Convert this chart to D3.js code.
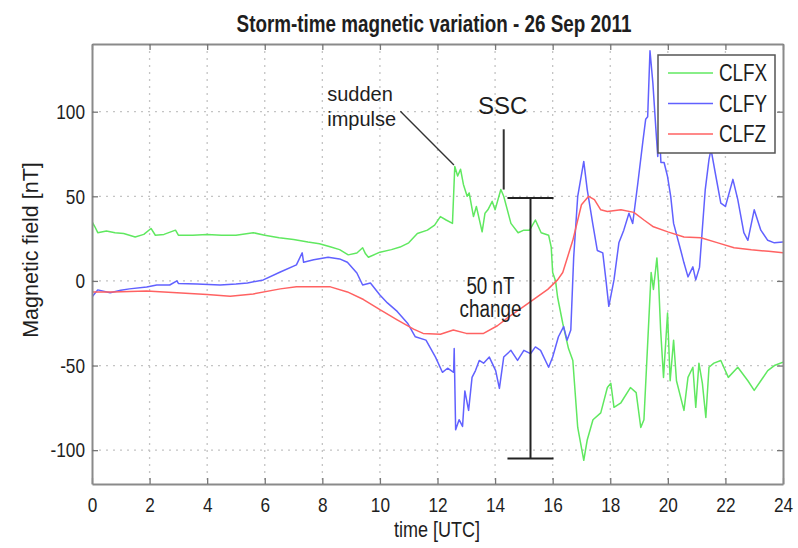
<!DOCTYPE html>
<html>
<head>
<meta charset="utf-8">
<script src="https://cdn.jsdelivr.net/npm/d3@7"></script>
<style>
  html, body { margin: 0; padding: 0; background: #fff; }
  svg { display: block; }
</style>
</head>
<body>
<svg id="chart" width="798" height="548"></svg>
<script>
// ---- data ----
const xTicks = [0, 2, 4, 6, 8, 10, 12, 14, 16, 18, 20, 22, 24];
const yTicks = [-100, -50, 0, 50, 100];
const seriesNames = ["CLFX", "CLFY", "CLFZ"];
const seriesColors = ["#60e860", "#6161ff", "#ff6262"];

const clfxTime = [0.0,0.1,0.2,0.5,0.8,1.1,1.5,1.8,2.05,2.2,2.5,2.9,3.0,3.5,4.0,4.5,5.0,5.6,6.0,6.5,7.0,7.5,7.9,8.3,8.6,8.9,9.2,9.4,9.5,9.6,10.0,10.4,10.7,11.0,11.3,11.65,11.9,12.1,12.3,12.52,12.6,12.7,12.8,12.9,13.03,13.1,13.25,13.35,13.55,13.65,13.75,13.9,14.0,14.2,14.3,14.55,14.8,15.0,15.2,15.4,15.6,15.86,15.95,16.0,16.1,16.17,16.35,16.55,16.7,16.87,17.08,17.2,17.4,17.67,17.9,18.02,18.13,18.37,18.7,18.9,19.06,19.17,19.34,19.42,19.5,19.62,19.68,19.75,19.85,19.99,20.08,20.2,20.3,20.56,20.7,20.87,20.97,21.08,21.2,21.32,21.43,21.6,21.84,22.1,22.43,22.78,23.0,23.23,23.47,23.7,24.0];
const clfxValue = [35,32,28.5,29.5,28.5,28,26,27.5,31,27,27.5,30,27,27,27.5,27,27,28.5,27,25.5,24.5,23,22,20,18.5,15.4,16.5,19.6,16,14,17,18.5,20,22.5,28,30,33,38,36,34,67.6,62,66,57,50,52,38,44,29,40,42,47,42,54,50,34,28.5,30,30,36,28.5,27,20,5,0,-9.5,-25,-40,-47,-86.6,-106,-94,-82,-78,-63,-60.5,-74.7,-72,-63,-66,-86.6,-82,-23,5,-5,13.6,-1,-29,-57,-19,-59,-35,-59,-76.5,-57,-51,-74.7,-48.6,-60.5,-80.7,-51,-48.6,-47,-57,-51,-59,-64.7,-59,-53,-50,-48];

const clfyTime = [0.0,0.2,0.63,1.0,1.3,1.9,2.25,2.7,2.95,3.0,3.65,4.45,5.0,5.4,5.95,6.54,7.1,7.3,7.35,7.7,8.2,8.6,8.87,9.2,9.4,9.67,10.0,10.26,10.6,10.96,11.23,11.6,11.93,12.17,12.35,12.56,12.58,12.63,12.75,12.87,12.95,13.08,13.2,13.32,13.45,13.6,13.8,14.02,14.15,14.3,14.55,14.78,15.0,15.23,15.4,15.58,15.86,16.0,16.2,16.38,16.5,16.63,16.73,16.87,17.08,17.2,17.39,17.55,17.74,17.85,17.95,18.13,18.3,18.47,18.65,18.78,18.96,19.13,19.23,19.3,19.38,19.48,19.58,19.65,19.7,19.76,19.87,19.99,20.1,20.2,20.45,20.56,20.7,20.87,20.97,21.1,21.3,21.43,21.5,21.67,21.84,22.0,22.26,22.43,22.64,22.78,23.0,23.23,23.47,23.7,24.0];
const clfyValue = [-9.5,-5.3,-7,-5.5,-4.7,-3.6,-2.4,-2.4,0,-1.5,-1.8,-2.4,-1.8,-1.2,0.6,5.3,9.5,16.6,11,12.5,14,13,11,4.7,-2.4,-1.2,-8.3,-13,-18,-25,-33,-35,-45,-54,-51.6,-54,-40,-88,-82,-86,-65,-76.5,-57,-53,-47,-48.6,-45,-53,-63.5,-45,-41,-47,-41,-43,-39,-41,-51,-45,-33,-27,-35,-29,14,50,70.6,54,34,18,16.6,0.6,-15,0.6,22.5,30,40,34,58,82,95.5,97,136,117,91,73.5,91,70,70,61.7,50,34,18,10.7,2.4,8.3,0.6,8,54,71.8,77.7,61.7,46,44,60,48,28.5,24,42,30,24,22.5,23];

const clfzTime = [0.0,0.73,1.9,2.95,4.0,4.8,5.6,6.54,7.1,8.28,8.87,9.43,10.0,10.6,11.17,11.5,12.1,12.55,13.0,13.6,14.08,14.5,15.0,15.5,15.83,16.17,16.35,16.7,17.0,17.25,17.45,17.67,17.9,18.37,18.82,19.17,19.5,20.0,20.56,21.15,21.74,22.3,22.9,23.5,24.0];
const clfzValue = [-6.5,-6.5,-6,-7,-8,-9,-7.7,-4.7,-3.5,-3.5,-6.5,-11,-17,-23,-28.5,-31,-31.5,-29,-31,-31,-26.5,-21,-15,-9,-5,0.6,5,24,45,50,48,42,41,42,40.5,36,32,29,26,25.5,22.5,19.6,18.4,17.5,16.6];

// annotations (data coordinates: hours, nT)
const impulsePointer = [[10.71, 100.2], [12.57, 68.5]];
const sscMarker = [[14.3, 89.6], [14.3, 54]];
const changeBar = { t: 15.23, from: -105, to: 49, capHalf: 0.8 };

// ---- drawing ----
const mLeft = 92, mRight = 783, mTop = 44, mBottom = 484;
const svg = d3.select("#chart");
const x = d3.scaleLinear().domain([0, 24]).range([mLeft, mRight]);
const y = d3.scaleLinear().domain([-120, 140]).range([mBottom, mTop]);

const REG = "'Liberation Sans', Arial, Helvetica, sans-serif";
const SQ = 0.82; // horizontal squeeze to mimic a narrow face
const txt = "#1e1e1e";

function narrowText(g, px, py, s, size, anchor, weight) {
  return g.append("text")
    .attr("transform", `translate(${px},${py}) scale(${SQ},1)`)
    .attr("text-anchor", anchor || "start")
    .style("font-family", REG).style("font-size", size + "px")
    .style("font-weight", weight || "normal")
    .attr("fill", txt).text(s);
}

// grid
const grid = svg.append("g").attr("stroke", "#c4c4c4").attr("stroke-width", 1.3).attr("stroke-dasharray", "2,5");
grid.selectAll("line.v").data(xTicks.filter(d => d > 0 && d < 24)).join("line").attr("class", "v")
  .attr("x1", d => x(d)).attr("x2", d => x(d)).attr("y1", mTop).attr("y2", mBottom);
grid.selectAll("line.h").data(yTicks).join("line").attr("class", "h")
  .attr("x1", mLeft).attr("x2", mRight).attr("y1", d => y(d)).attr("y2", d => y(d));

// clip
svg.append("clipPath").attr("id", "plotclip").append("rect")
  .attr("x", mLeft).attr("y", mTop).attr("width", mRight - mLeft).attr("height", mBottom - mTop);

const line = d3.line().x(d => x(d[0])).y(d => y(d[1]));
const series = [
  d3.zip(clfxTime, clfxValue),
  d3.zip(clfyTime, clfyValue),
  d3.zip(clfzTime, clfzValue)
];
const lines = svg.append("g").attr("clip-path", "url(#plotclip)");
[0, 1, 2].forEach(i => {
  lines.append("path").datum(series[i])
    .attr("fill", "none").attr("stroke", seriesColors[i])
    .attr("stroke-width", 1.5).attr("stroke-linejoin", "round")
    .attr("d", line);
});

// axes (MATLAB style: ticks inside, box)
const frameColor = "#8a8a8a";
const fmt = d => String(d);
const axB = d3.axisBottom(x).tickValues(xTicks).tickSizeInner(-6).tickSizeOuter(0).tickPadding(12).tickFormat(fmt);
const axT = d3.axisTop(x).tickValues(xTicks).tickSizeInner(-6).tickSizeOuter(0).tickFormat("");
const axL = d3.axisLeft(y).tickValues(yTicks).tickSizeInner(-6).tickSizeOuter(0).tickPadding(7).tickFormat(fmt);
const axR = d3.axisRight(y).tickValues(yTicks).tickSizeInner(-6).tickSizeOuter(0).tickFormat("");

function styleAxis(g) {
  g.select(".domain").attr("stroke", frameColor).attr("stroke-width", 2);
  g.selectAll(".tick line").attr("stroke", "#777").attr("stroke-width", 1.3);
  g.selectAll(".tick text").attr("fill", txt).style("font-family", REG).style("font-size", "21px");
}
const gB = svg.append("g").attr("transform", `translate(0,${mBottom})`).call(axB).call(styleAxis);
gB.selectAll(".tick text").attr("dy", "0.75em").attr("transform", `scale(${SQ},1)`);
svg.append("g").attr("transform", `translate(0,${mTop})`).call(axT).call(styleAxis);
const gL = svg.append("g").attr("transform", `translate(${mLeft},0)`).call(axL).call(styleAxis);
gL.selectAll(".tick text").attr("x", -7 / SQ).attr("transform", `scale(${SQ},1)`);
svg.append("g").attr("transform", `translate(${mRight},0)`).call(axR).call(styleAxis);

// titles
narrowText(svg, 434, 32, "Storm-time magnetic variation - 26 Sep 2011", 23, "middle", "bold");
narrowText(svg, 437, 537, "time [UTC]", 22, "middle");
svg.append("text").attr("transform", "translate(38,250) rotate(-90)").attr("text-anchor", "middle")
  .style("font-family", REG).style("font-size", "21.5px").attr("fill", txt)
  .text("Magnetic field [nT]");

// annotations
const ann = svg.append("g");
ann.append("path").datum(impulsePointer).attr("d", line).attr("stroke", "#333").attr("stroke-width", 1.4).attr("fill", "none");
ann.append("path").datum(sscMarker).attr("d", line).attr("stroke", "#333").attr("stroke-width", 2).attr("fill", "none");
ann.append("text").attr("x", x(8.17)).attr("y", y(106.5)).attr("fill", txt).style("font-family", REG).style("font-size", "20px").text("sudden");
ann.append("text").attr("x", x(8.17)).attr("y", y(91.5)).attr("fill", txt).style("font-family", REG).style("font-size", "20px").text("impulse");
ann.append("text").attr("x", x(14.26)).attr("y", y(98.5)).attr("fill", txt).attr("text-anchor", "middle").style("font-family", REG).style("font-size", "24px").text("SSC");
narrowText(ann, x(13.84), y(-7.5), "50 nT", 23, "middle");
narrowText(ann, x(13.84), y(-21.5), "change", 23, "middle");
const bar = svg.append("g").attr("stroke", "#222").attr("stroke-width", 2);
bar.append("line").attr("x1", x(changeBar.t)).attr("x2", x(changeBar.t)).attr("y1", y(changeBar.to)).attr("y2", y(changeBar.from));
bar.append("line").attr("x1", x(changeBar.t - changeBar.capHalf)).attr("x2", x(changeBar.t + changeBar.capHalf)).attr("y1", y(changeBar.to)).attr("y2", y(changeBar.to));
bar.append("line").attr("x1", x(changeBar.t - changeBar.capHalf)).attr("x2", x(changeBar.t + changeBar.capHalf)).attr("y1", y(changeBar.from)).attr("y2", y(changeBar.from));

// legend
const lg = svg.append("g").attr("transform", "translate(658,55)");
lg.append("rect").attr("width", 117).attr("height", 98).attr("fill", "#fff").attr("stroke", "#555").attr("stroke-width", 1.5);
seriesNames.forEach((n, i) => {
  const ry = 18 + i * 30.5;
  lg.append("line").attr("x1", 10).attr("x2", 55).attr("y1", ry).attr("y2", ry)
    .attr("stroke", seriesColors[i]).attr("stroke-width", 1.6);
  narrowText(lg, 61, ry + 8, n, 23, "start");
});
</script>
</body>
</html>
